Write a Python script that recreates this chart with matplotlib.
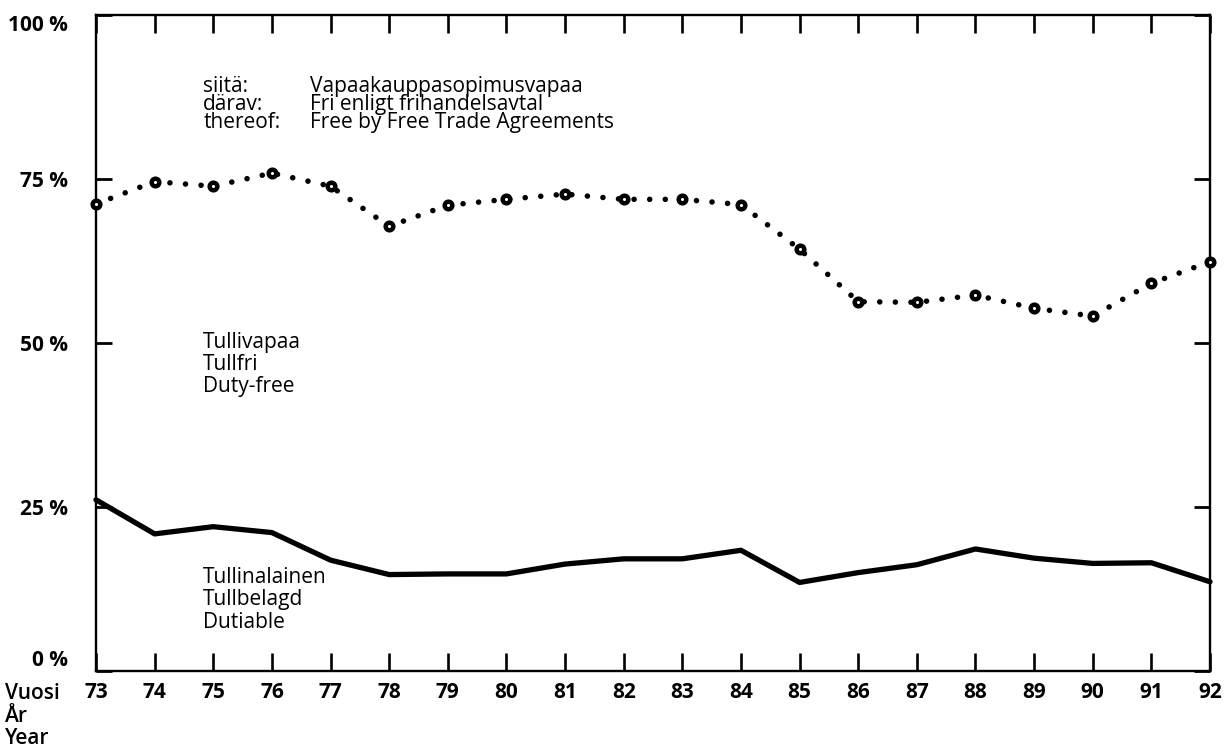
import matplotlib
matplotlib.use("Agg")
import matplotlib.pyplot as plt

plt.rcParams['font.family'] = ['Open Sans', 'DejaVu Sans']

years = list(range(73, 93))
year_labels = [str(y) for y in years]
free_by_fta = [71.2, 74.6, 73.9, 75.9, 73.9, 67.8, 71.0, 71.9, 72.7, 71.9,
               71.9, 71.1, 64.3, 56.3, 56.2, 57.3, 55.3, 54.1, 59.1, 62.4]
dutiable = [26.1, 20.9, 22.0, 21.1, 16.9, 14.7, 14.8, 14.8, 16.3, 17.1,
            17.1, 18.4, 13.5, 15.0, 16.2, 18.6, 17.2, 16.4, 16.5, 13.6]
y_ticks = [0, 25, 50, 75, 100]
y_labels = ['0 %', '25 %', '50 %', '75 %', '100 %']

W, H = 1229, 749
fig = plt.figure(figsize=(W / 100, H / 100), dpi=100)
ax = fig.add_axes([96 / W, 78 / H, (1210 - 96) / W, (671 - 15) / H])

ax.plot(years, free_by_fta, color='black', lw=4.0, linestyle=(0, (0.01, 2.8)),
        dash_capstyle='round', zorder=3)
ax.plot(years, free_by_fta, linestyle='none', marker='o', ms=5.5, mfc='white',
        mec='black', mew=3.2, zorder=4, clip_on=False)
ax.plot(years, dutiable, color='black', lw=3.8, solid_capstyle='round',
        solid_joinstyle='round', zorder=3, clip_on=False)

ax.set_xlim(73, 92)
ax.set_ylim(0, 100)
ax.set_xticks(years)
ax.set_xticklabels(year_labels, fontsize=15, fontweight='bold')
ax.set_yticks(y_ticks)
ax.set_yticklabels(y_labels, fontsize=15, fontweight='bold')

for s in ax.spines.values():
    s.set_linewidth(1.7)
ax.tick_params(axis='x', direction='in', top=True, bottom=True, length=13,
               width=1.9, pad=8)
ax.tick_params(axis='y', direction='in', left=True, right=True, length=11.5,
               width=2.0, pad=20)
ylabs = ax.get_yticklabels()
ylabs[0].set_va('bottom')
ylabs[-1].set_va('top')

fs = 15
ax.text(74.83, 82.8, 'siitä:\ndärav:\nthereof:', fontsize=fs, va='baseline',
        linespacing=0.82)
ax.text(76.65, 82.8,
        'Vapaakauppasopimusvapaa\nFri enligt frihandelsavtal\nFree by Free Trade Agreements',
        fontsize=fs, va='baseline', linespacing=0.82)

ax.text(74.83, 42.5, 'Tullivapaa\nTullfri\nDuty-free', fontsize=fs,
        va='baseline', linespacing=1.08)

ax.text(74.83, 6.6, 'Tullinalainen\nTullbelagd\nDutiable', fontsize=fs,
        va='baseline', linespacing=1.1)

fig.text(5 / W, 5 / H, 'Vuosi\nÅr\nYear', fontsize=fs, va='baseline',
         fontweight='semibold', linespacing=1.08)

fig.savefig('out.png', dpi=100, facecolor='white')
